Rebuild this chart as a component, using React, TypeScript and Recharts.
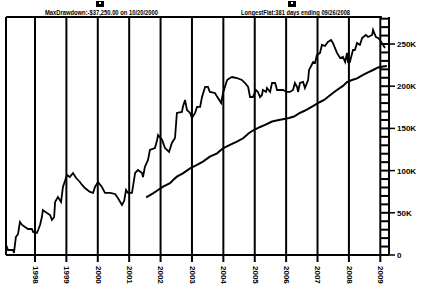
import { LineChart, Line, XAxis, YAxis, CartesianGrid, ReferenceLine } from 'recharts'

const equityYears = [
  1997.08, 1997.14, 1997.3, 1997.33, 1997.39, 1997.46, 1997.52, 1997.59, 1997.68, 1997.78,
  1997.9, 1997.94, 1998.06, 1998.1, 1998.16, 1998.22, 1998.25, 1998.38, 1998.48, 1998.54,
  1998.61, 1998.64, 1998.73, 1998.83, 1998.89, 1999.02, 1999.11, 1999.21, 1999.31, 1999.43,
  1999.5, 1999.59, 1999.75, 1999.85, 1999.91, 2000.01, 2000.13, 2000.23, 2000.39, 2000.55,
  2000.64, 2000.77, 2000.84, 2000.9, 2000.96, 2001.09, 2001.19, 2001.28, 2001.41, 2001.44,
  2001.5, 2001.6, 2001.66, 2001.82, 2001.89, 2001.92, 2002.05, 2002.14, 2002.27, 2002.36,
  2002.46, 2002.52, 2002.68, 2002.71, 2002.78, 2002.84, 2002.94, 2003.0, 2003.1, 2003.16,
  2003.26, 2003.32, 2003.42, 2003.51, 2003.57, 2003.73, 2003.83, 2003.93, 2003.99, 2004.05,
  2004.12, 2004.21, 2004.28, 2004.43, 2004.59, 2004.69, 2004.79, 2004.85, 2004.94, 2005.04,
  2005.1, 2005.17, 2005.23, 2005.26, 2005.36, 2005.39, 2005.49, 2005.55, 2005.65, 2005.71,
  2005.9, 2006.03, 2006.12, 2006.22, 2006.28, 2006.35, 2006.38, 2006.44, 2006.54, 2006.6,
  2006.7, 2006.73, 2006.86, 2006.92, 2006.98, 2007.08, 2007.14, 2007.24, 2007.33, 2007.43,
  2007.49, 2007.62, 2007.72, 2007.81, 2007.88, 2007.94, 2007.97, 2008.03, 2008.13, 2008.19,
  2008.26, 2008.35, 2008.42, 2008.54, 2008.61, 2008.74, 2008.77, 2008.86, 2008.93, 2008.99,
  2009.15,
]
const equityValues = [
  11900, 5900, 5900, 2400, 21300, 24900, 39100, 35600, 33200, 30800,
  30800, 27300, 26100, 29600, 35600, 45000, 53300, 49800, 47400, 41500,
  45000, 62800, 68700, 62800, 80600, 94800, 92400, 97200, 91200, 86500,
  83000, 79400, 74700, 73500, 80600, 86500, 80600, 73500, 73500, 72300,
  67500, 59300, 64000, 77000, 73500, 73500, 97200, 100700, 97200, 92400,
  104300, 112600, 124400, 126800, 136300, 142200, 136300, 126800, 122100, 132700,
  138600, 168300, 169500, 175400, 183700, 171800, 168300, 162300, 168300, 175400,
  175400, 187200, 199100, 199100, 193200, 192000, 186000, 180100, 192000, 199100,
  207400, 209700, 210900, 209700, 207400, 203800, 199100, 187200, 187200, 195500,
  193200, 187200, 189600, 195500, 193200, 197900, 193200, 203800, 203800, 195500,
  195500, 193200, 193200, 195500, 203800, 199100, 193200, 203800, 205000, 197900,
  207400, 219200, 228700, 227500, 237000, 239400, 248900, 247700, 252400, 254800,
  251200, 239400, 233400, 234600, 228700, 239400, 228700, 228700, 242900, 242900,
  251200, 248900, 257100, 260700, 258300, 260700, 266600, 258300, 257100, 254800,
  245300,
]

const avgYears = [
  2001.54, 2001.76, 2001.92, 2002.08, 2002.3, 2002.4, 2002.52, 2002.71, 2002.94, 2003.16,
  2003.35, 2003.57, 2003.8, 2003.99, 2004.21, 2004.43, 2004.63, 2004.82, 2004.97, 2005.17,
  2005.33, 2005.55, 2005.77, 2006.09, 2006.25, 2006.41, 2006.57, 2006.73, 2006.92, 2007.08,
  2007.21, 2007.33, 2007.49, 2007.62, 2007.81, 2007.94, 2008.1, 2008.26, 2008.45, 2008.61,
  2008.77, 2008.93, 2009.09, 2009.21,
]
const avgValues = [
  68400, 73100, 77000, 80900, 85000, 88900, 92800, 96800, 102700, 106700,
  110600, 116500, 120500, 126400, 130400, 134300, 138300, 144600, 148100, 151700,
  154100, 158200, 160000, 162300, 164100, 167900, 170600, 173800, 177800, 181300,
  183700, 187200, 192000, 195500, 200300, 205000, 207400, 209200, 213300, 216300,
  219200, 222200, 223400, 224000,
]

const yearTicks = [1998, 1999, 2000, 2001, 2002, 2003, 2004, 2005, 2006, 2007, 2008, 2009]
const valueTicks = [
  0, 10000, 20000, 30000, 40000, 50000, 60000, 70000, 80000, 90000,
  100000, 110000, 120000, 130000, 140000, 150000, 160000, 170000, 180000, 190000,
  200000, 210000, 220000, 230000, 240000, 250000, 260000, 270000, 280000,
]
const majorLabels: Record<number, string> = {
  0: '0',
  50000: '50K',
  100000: '100K',
  150000: '150K',
  200000: '200K',
  250000: '250K',
}

const X_DOMAIN: [number, number] = [1997.076, 2009.277]
const Y_DOMAIN: [number, number] = [0, 282000]
const FONT = '"Liberation Sans Narrow", "Arial Narrow", "Liberation Sans", sans-serif'

const equityData = equityYears.map((year, i) => ({ year, value: equityValues[i] }))
const avgData = avgYears.map((year, i) => ({ year, value: avgValues[i] }))

function YearTick({ x, y, payload }: any) {
  return (
    <g>
      <line x1={x} x2={x} y1={y} y2={y + 7} stroke="#000" strokeWidth={2} />
      <text
        x={0}
        y={0}
        transform={`translate(${x},${y + 11}) rotate(90)`}
        fontSize={8}
        fontWeight={700}
        fontFamily={FONT}
        dominantBaseline="middle"
        textAnchor="start"
        fill="#000"
      >
        {payload.value}
      </text>
    </g>
  )
}

function ValueTick({ x, y, payload }: any) {
  const label = majorLabels[payload.value]
  return (
    <g>
      <line x1={x - 8} x2={x} y1={y} y2={y} stroke="#000" strokeWidth={2} />
      {label !== undefined && (
        <>
          <line x1={x} x2={x + 6} y1={y} y2={y} stroke="#000" strokeWidth={1.5} />
          <text
            x={x + 8}
            y={y + 3}
            fontSize={8}
            fontWeight={700}
            fontFamily={FONT}
            textAnchor="start"
            fill="#000"
          >
            {label}
          </text>
        </>
      )}
    </g>
  )
}

function Marker({ x }: { x: number }) {
  return (
    <g>
      <rect x={x} y={1} width={8} height={6} fill="#000" />
      <rect x={x + 3} y={2} width={2} height={2} fill="#fff" />
    </g>
  )
}

export default function App() {
  return (
    <div style={{ position: 'absolute', left: 0, top: 0, width: 425, height: 294, background: '#fff' }}>
      <LineChart width={425} height={294} data={equityData} margin={{ top: 17, right: 0, bottom: 0, left: 6 }}>
        <CartesianGrid horizontal={false} stroke="#000" strokeWidth={2} />
        <XAxis
          dataKey="year"
          type="number"
          domain={X_DOMAIN}
          ticks={yearTicks}
          allowDataOverflow
          height={39}
          axisLine={{ stroke: '#000', strokeWidth: 2 }}
          tickLine={false}
          tickSize={0}
          tickMargin={0}
          interval={0}
          tick={<YearTick />}
        />
        <YAxis
          orientation="right"
          type="number"
          domain={Y_DOMAIN}
          ticks={valueTicks}
          allowDataOverflow
          width={36}
          axisLine={{ stroke: '#000', strokeWidth: 2 }}
          tickLine={false}
          tickSize={0}
          tickMargin={0}
          interval={0}
          tick={<ValueTick />}
        />
        <ReferenceLine x={X_DOMAIN[0]} stroke="#000" strokeWidth={2} />
        <ReferenceLine
          segment={[
            { x: X_DOMAIN[0], y: Y_DOMAIN[1] },
            { x: 2009.05, y: Y_DOMAIN[1] },
          ]}
          stroke="#000"
          strokeWidth={2}
        />
        <Line
          data={equityData}
          dataKey="value"
          type="linear"
          stroke="#000"
          strokeWidth={1.8}
          dot={false}
          isAnimationActive={false}
        />
        <Line
          data={avgData}
          dataKey="value"
          type="linear"
          stroke="#000"
          strokeWidth={2}
          dot={false}
          isAnimationActive={false}
        />
      </LineChart>
      <svg width={425} height={17} style={{ position: 'absolute', left: 0, top: 0, pointerEvents: 'none' }}>
        <Marker x={96} />
        <text
          x={101.5}
          y={15}
          fontSize={8}
          fontWeight={700}
          fontFamily={FONT}
          textAnchor="middle"
          textLength={113}
          lengthAdjust="spacingAndGlyphs"
          fill="#000"
        >
          MaxDrawdown:-$37,250.00 on 10/20/2000
        </text>
        <Marker x={288} />
        <text
          x={295.5}
          y={15}
          fontSize={8}
          fontWeight={700}
          fontFamily={FONT}
          textAnchor="middle"
          textLength={109}
          lengthAdjust="spacingAndGlyphs"
          fill="#000"
        >
          LongestFlat:381 days ending 09/26/2008
        </text>
      </svg>
    </div>
  )
}
